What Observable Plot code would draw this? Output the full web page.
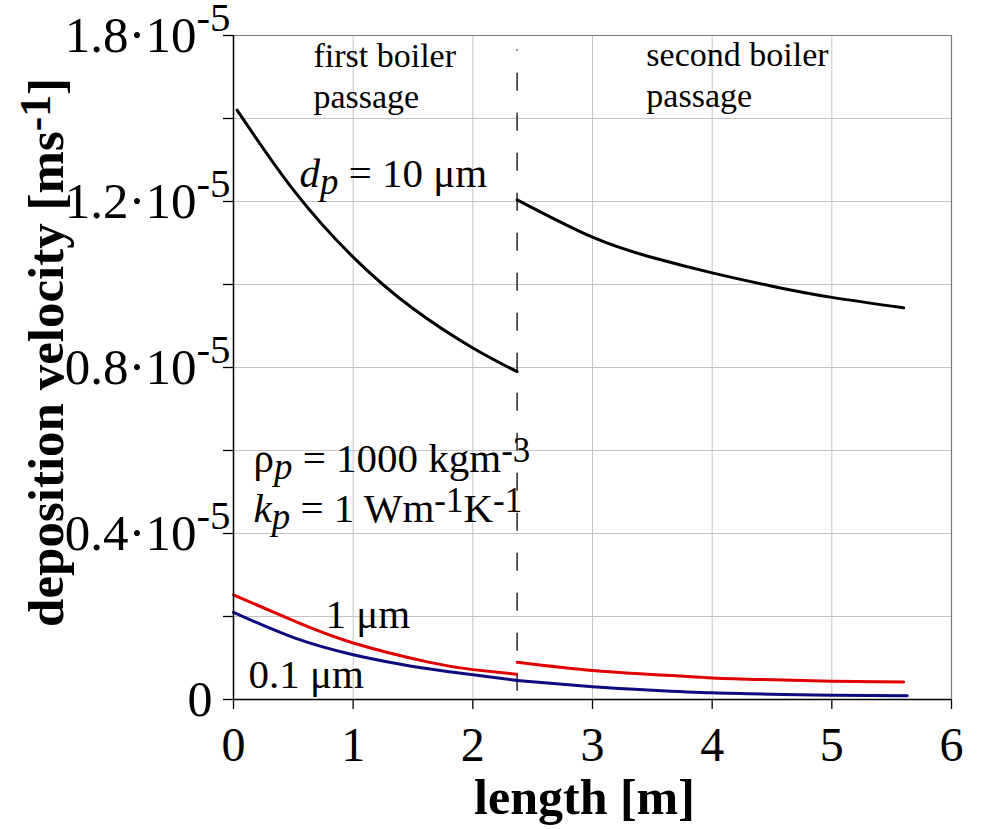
<!DOCTYPE html>
<html><head><meta charset="utf-8">
<script src="https://cdn.jsdelivr.net/npm/d3@7"></script>
<script src="https://cdn.jsdelivr.net/npm/@observablehq/plot@0.6"></script>
<style>
body{margin:0;background:#fff}
#chart svg, #chart text, #chart tspan{font-family:"Liberation Serif","Times New Roman",serif}
</style>
</head><body><div id="chart"></div>
<script>
// ---- data (deposition velocity in units of 1e-5 m/s) ----
const xFirst10 = [0.03, 0.5, 1, 1.5, 2, 2.37];
const d10First = [1.42, 1.228, 1.066, 0.942, 0.847, 0.79];
const xSecond = [2.37, 3, 3.5, 4, 4.5, 5, 5.6];
const d10Second = [1.204, 1.114, 1.065, 1.028, 0.996, 0.969, 0.944];
const xFirst1 = [0, 0.515, 1, 1.629, 2, 2.36];
const d1First = [0.252, 0.188, 0.136, 0.09, 0.072, 0.061];
const d1Second = [0.09, 0.07, 0.0605, 0.052, 0.0475, 0.044, 0.042];
const xFirst01 = [0, 0.515, 1, 1.35, 1.629, 2, 2.37];
const d01First = [0.21, 0.148, 0.108, 0.0875, 0.074, 0.0595, 0.046];
const xSecond01 = [2.37, 3, 3.5, 4, 4.5, 5, 5.63];
const d01Second = [0.046, 0.031, 0.0225, 0.016, 0.0127, 0.0104, 0.009];
const passageBoundary = [2.37];

const xTicks = [0, 1, 2, 3, 4, 5, 6];
const xTickLabels = ["0", "1", "2", "3", "4", "5", "6"];
const yGridTicks = [0, 0.2, 0.4, 0.6, 0.8, 1.0, 1.2, 1.4, 1.6];
const yLabelTicks = [0, 0.4, 0.8, 1.2, 1.6];
const yTickLabels = ["0", "0.4·10^{-5}", "0.8·10^{-5}", "1.2·10^{-5}", "1.8·10^{-5}"];

const series = (xs, ys) => xs.map((x, i) => ({x, y: ys[i]}));
const yLabelMap = new Map(yLabelTicks.map((v, i) => [v, yTickLabels[i]]));

const black = "#000000", red = "#e00000", navy = "#0c0c80";
const serif = '"Liberation Serif","Times New Roman",serif';
const ann = (label, x, y, size) => Plot.text([label], {x, y, textAnchor: "start", lineAnchor: "bottom", fontSize: size, fontFamily: serif});
const curve = (xs, ys, stroke) => Plot.line(series(xs, ys), {x: "x", y: "y", stroke, strokeWidth: 3, curve: "natural"});

const chart = Plot.plot({
  width: 995, height: 829,
  marginTop: 35, marginRight: 44, marginBottom: 130, marginLeft: 233,
  x: {domain: [0, 6]},
  y: {domain: [0, 1.6]},
  style: {fontFamily: serif, background: "white", color: "black", overflow: "visible"},
  marks: [
    Plot.gridX(xTicks, {stroke: "#c4c4c4", strokeOpacity: 1, strokeWidth: 1}),
    Plot.gridY(yGridTicks, {stroke: "#c4c4c4", strokeOpacity: 1, strokeWidth: 1}),
    Plot.ruleX([6], {stroke: "#7a7a7a", strokeWidth: 1.2}),
    Plot.ruleY([1.6], {stroke: "#7a7a7a", strokeWidth: 1.2}),
    Plot.ruleX(passageBoundary, {x: d => d, y1: 0.02, y2: 1.565, stroke: "#333", strokeWidth: 1.6, strokeDasharray: "18,22"}),
    curve(xFirst10, d10First, black),
    curve(xSecond, d10Second, black),
    curve(xFirst1, d1First, red),
    curve(xSecond, d1Second, red),
    curve(xFirst01, d01First, navy),
    curve(xSecond01, d01Second, navy),
    Plot.ruleX([0], {stroke: "black", strokeWidth: 1.5}),
    Plot.ruleY([0], {stroke: "black", strokeWidth: 1.5}),
    Plot.axisX(xTicks, {tickSize: 10, tickPadding: 17, fontSize: 48, fontFamily: serif, strokeWidth: 1.3, tickFormat: d => xTickLabels[xTicks.indexOf(d)], label: null}),
    Plot.axisY(yGridTicks, {tickSize: 10, strokeWidth: 1.3, tickFormat: () => "", label: null}),
    Plot.axisY([0], {tickSize: 0, tickPadding: 21, fontSize: 50, fontFamily: serif, tickFormat: d => yLabelMap.get(d), label: null}),
    Plot.axisY(yLabelTicks.slice(1), {tickSize: 0, tickPadding: 3, fontSize: 51, fontFamily: serif, tickFormat: d => yLabelMap.get(d), label: null}),
    // axis titles
    Plot.text(["deposition velocity [ms^{-1}]"], {frameAnchor: "left", rotate: -90, dx: -171, dy: -15, fontSize: 51, fontWeight: "bold", fontFamily: serif, lineAnchor: "bottom", textAnchor: "middle"}),
    Plot.text(["length [m]"], {frameAnchor: "bottom", dx: -8, dy: 114, fontSize: 50, fontWeight: "bold", fontFamily: serif, lineAnchor: "bottom", textAnchor: "middle"}),
    // annotations
    ann("first boiler", 0.668, 1.5236, 34),
    ann("passage", 0.668, 1.4255, 34),
    ann("second boiler", 3.45, 1.5277, 34),
    ann("passage", 3.45, 1.4272, 34),
    ann("*d*_{p} = 10 μm", 0.551, 1.2345, 41),
    ann("ρ_{p} = 1000 kgm^{-3}", 0.167, 0.5477, 41),
    ann("*k*_{p} = 1 Wm^{-1}K^{-1}", 0.167, 0.4272, 41),
    ann("1 μm", 0.769, 0.1711, 41),
    ann("0.1 μm", 0.125, 0.0289, 41)
  ]
});
document.getElementById("chart").appendChild(chart);

// rich text: ^{sup}, _{sub (italic)}, *italic*
function richify(nodes, raise, supScale) {
  nodes.forEach(t => {
    if (t.dataset.rich) return;
    const s = t.textContent;
    t.dataset.rich = "1";
    if (!/[\^_*]/.test(s)) return;
    const fs = parseFloat(getComputedStyle(t).fontSize);
    t.textContent = "";
    let shift = 0;
    const re = /\^\{([^}]*)\}|_\{([^}]*)\}|\*([^*]+)\*|([^^_*]+)/g;
    let m;
    while ((m = re.exec(s))) {
      const ts = document.createElementNS("http://www.w3.org/2000/svg", "tspan");
      let target = 0, txt, size = null, italic = false;
      if (m[1] != null) { txt = m[1]; target = -raise * fs; size = supScale * fs; }
      else if (m[2] != null) { txt = m[2]; target = 0.16 * fs; size = 0.9 * fs; italic = true; }
      else if (m[3] != null) { txt = m[3]; italic = true; }
      else txt = m[4];
      const d = target - shift;
      if (d) ts.setAttribute("dy", d.toFixed(2));
      shift = target;
      if (size) ts.setAttribute("font-size", size.toFixed(1));
      if (italic) ts.setAttribute("font-style", "italic");
      ts.textContent = txt;
      t.appendChild(ts);
    }
  });
}
richify(chart.querySelectorAll('[aria-label="y-axis tick label"] text'), 0.4, 0.8);
richify(chart.querySelectorAll('text'), 0.25, 0.85);
</script>
</body></html>
